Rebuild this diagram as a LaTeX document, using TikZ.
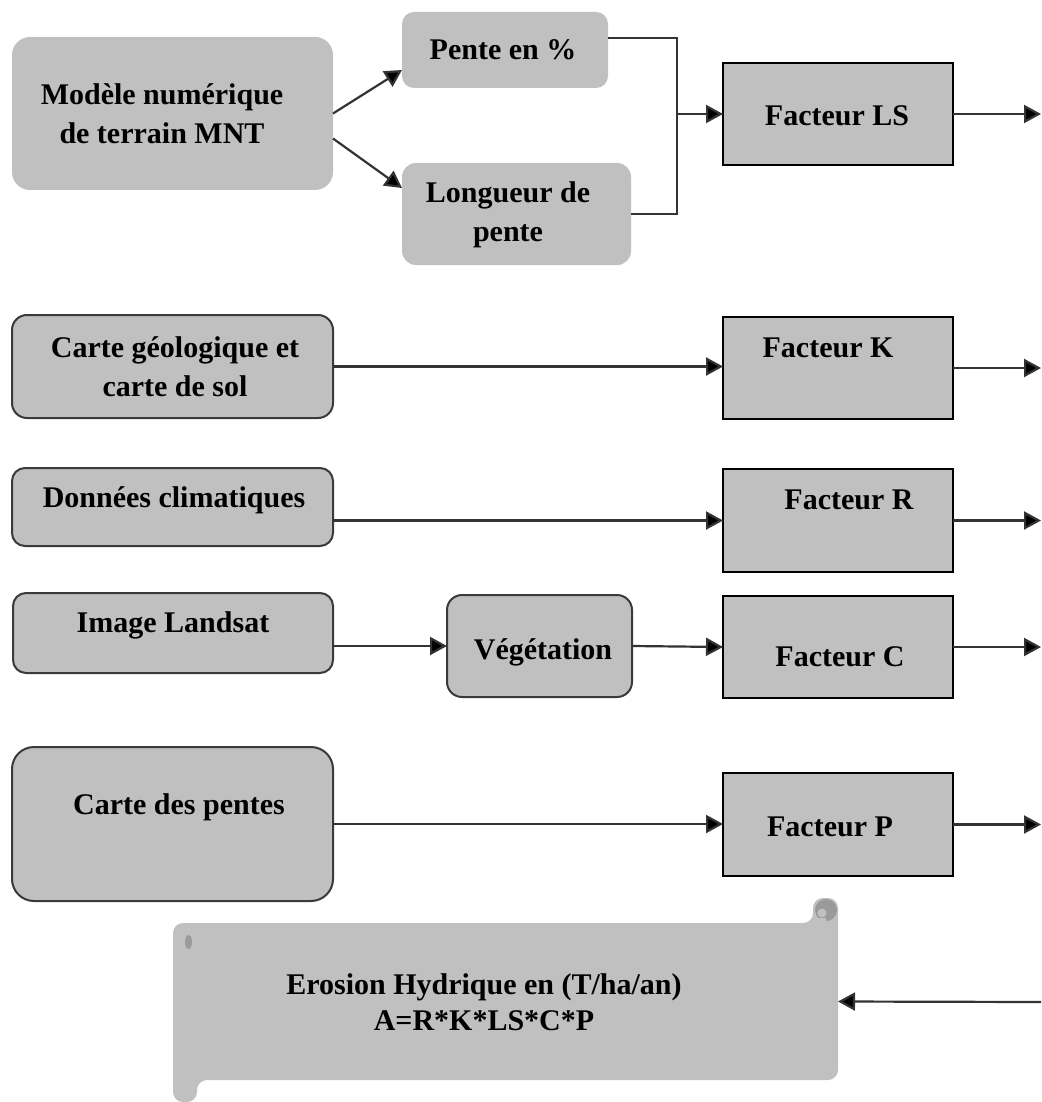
\documentclass[tikz,border=0pt]{standalone}
\usepackage{fontspec}
\setmainfont{Liberation Serif}
\usetikzlibrary{arrows.meta}
\definecolor{boxgray}{HTML}{C0C0C0}
\definecolor{edgegray}{HTML}{3A3A3A}
\definecolor{curlgray}{HTML}{9A9A9A}
\begin{document}
\begin{tikzpicture}[x=1pt,y=1pt,
  txt/.style={font=\fontsize{30}{39}\selectfont\bfseries, align=center, inner sep=0pt},
  plainbox/.style={fill=boxgray, rounded corners=18pt, inner sep=0pt, outer sep=0pt},
  roundbox/.style={fill=boxgray, draw=edgegray, line width=2pt, rounded corners=15pt, inner sep=0pt, outer sep=0pt},
  factbox/.style={fill=boxgray, draw=black, line width=2pt, inner sep=0pt, outer sep=0pt},
  arr/.style={draw=black!80, line width=2.2pt, -{Triangle[length=17pt,width=18pt,fill=black]}},
  ln/.style={draw=black!80, line width=2.2pt}]
\useasboundingbox (0,0) rectangle (1041,-1102);
\fill[white] (0,0) rectangle (1041,-1102);

% ---- top section ----
\node[plainbox, minimum width=321, minimum height=153] (mnt) at (172.5,-113.5) {};
\node[txt] (mntt) at (162,-114) {Modèle numérique\\de terrain MNT};
\node[plainbox, rounded corners=12pt, minimum width=206, minimum height=76] (pente) at (505,-50) {};
\node[txt] (pentet) at (503,-50) {Pente en \%};
\node[plainbox, rounded corners=14pt, minimum width=229, minimum height=102] (long) at (516.5,-214) {};
\node[txt] (longt) at (508,-215) {Longueur de\\pente};
\node[factbox, minimum width=230, minimum height=102] (LS) at (838,-114) {};
\node[txt] (LSt) at (837,-116) {Facteur LS};

\draw[arr] (mnt.east) -- ([yshift=-20]pente.west);
\draw[arr] ([yshift=-25]mnt.east) -- ([yshift=26]long.west);
\coordinate (J) at (677,-114);
\draw[ln] ([yshift=12]pente.east) -| (J) |- (long.east);
\draw[arr] (J) -- (LS.west);
\coordinate (oLS) at (1041,-114);
\draw[arr] (LS.east) -- (oLS);

% ---- row K ----
\node[roundbox, minimum width=321, minimum height=103] (geo) at (172.5,-366.5) {};
\node[txt] (geot) at (175,-367) {Carte géologique et\\carte de sol};
\node[factbox, minimum width=230, minimum height=102] (K) at (838,-368) {};
\node[txt] (Kt) at (828,-348) {Facteur K};
\draw[arr] (geo.east) -- (geo.east -| K.west);
\coordinate (oK) at (1041,-368);
\draw[arr] (K.east) -- (oK);

% ---- row R ----
\node[roundbox, rounded corners=13pt, minimum width=321, minimum height=78] (don) at (172.5,-507) {};
\node[txt] (dont) at (174,-500) {Données climatiques};
\node[factbox, minimum width=230, minimum height=103] (R) at (838,-520.5) {};
\node[txt] (Rt) at (849,-500) {Facteur R};
\draw[arr] (R.west -| don.east) -- (R.west);
\coordinate (oR) at (1041,-520.5);
\draw[arr] (R.east) -- (oR);

% ---- row C ----
\node[roundbox, rounded corners=13pt, minimum width=320, minimum height=80] (land) at (173,-633) {};
\node[txt] (landt) at (173,-625) {Image Landsat};
\node[roundbox, rounded corners=15pt, minimum width=185, minimum height=102] (veg) at (539.5,-646) {};
\node[txt] (vegt) at (543,-652) {Végétation};
\node[factbox, minimum width=230, minimum height=102] (C) at (838,-647) {};
\node[txt] (Ct) at (840,-657) {Facteur C};
\draw[arr] (veg.west -| land.east) -- (veg.west);
\draw[arr] (veg.east) -- (C.west);
\coordinate (oC) at (1041,-647);
\draw[arr] (C.east) -- (oC);

% ---- row P ----
\node[roundbox, rounded corners=22pt, minimum width=321, minimum height=154] (cp) at (172.5,-824) {};
\node[txt] (cpt) at (179,-807) {Carte des pentes};
\node[factbox, minimum width=230, minimum height=103] (P) at (838,-824.5) {};
\node[txt] (Pt) at (830,-827) {Facteur P};
\draw[arr] (cp.east) -- (cp.east -| P.west);
\coordinate (oP) at (1041,-824.5);
\draw[arr] (P.east) -- (oP);

% ---- scroll ----
\fill[boxgray, rounded corners=10pt] (173,-1102) -- (173,-923) -- (813,-923) -- (813,-898) -- (838,-898) -- (838,-1080) -- (197,-1080) -- (197,-1102) -- cycle;
\fill[curlgray] (826,-910) circle (11);
\fill[boxgray] (822,-913) circle (4.5);
\fill[boxgray] (818,-918) rectangle (826,-923);
\fill[curlgray] (188.5,-942) ellipse (3.5 and 7);
\node[minimum width=665, minimum height=157, inner sep=0pt, outer sep=0pt] (scroll) at (505.5,-1001.5) {};
\node[txt, font=\fontsize{30}{36}\selectfont\bfseries] (scrollt) at (484,-1002) {Erosion Hydrique en (T/ha/an)\\A=R*K*LS*C*P};
\coordinate (oS) at (1041,-1002);
\draw[arr] (oS) -- (scroll.east);
\end{tikzpicture}
\end{document}
